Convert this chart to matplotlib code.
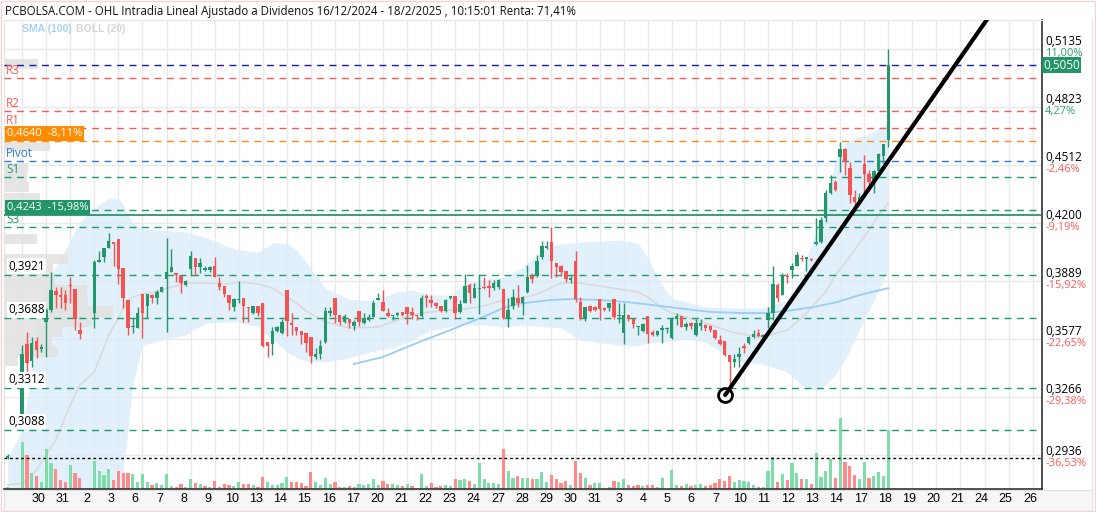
import numpy as np
import matplotlib
matplotlib.use("Agg")
import matplotlib.pyplot as plt
from matplotlib.patches import Rectangle
from matplotlib.transforms import blended_transform_factory
from matplotlib import font_manager

nan = np.nan

# ---------------- data (one entry per intraday slot, 5 slots per trading day) -------------
opens = [0.2938, nan, nan, 0.3164, 0.3551, 0.3459, 0.3567, 0.3524, 0.3669, 0.3733,
         0.3835, 0.3814, 0.3814, 0.3868, 0.3846, 0.3626, nan, nan, 0.3717, 0.3991,
         0.4018, 0.4066, 0.4093, 0.4115, 0.3959, 0.3787, 0.3642, 0.3637, 0.3819, 0.3755,
         0.3814, 0.3798, 0.3830, 0.3900, 0.3937, 0.3932, 0.3916, 0.3868, 0.3953, 0.4013,
         0.3964, 0.3948, 0.3948, 0.3969, 0.3878, 0.3862, 0.3814, 0.3749, 0.3787, 0.3798,
         0.3749, 0.3717, 0.3755, 0.3771, 0.3561, 0.3551, 0.3620, 0.3610, 0.3841, 0.3658,
         0.3642, 0.3620, 0.3610, 0.3588, 0.3481, 0.3497, 0.3561, 0.3717, 0.3798, 0.3706,
         0.3669, 0.3685, 0.3648, 0.3728, 0.3664, 0.3680, 0.3696, 0.3787, 0.3776, 0.3717,
         0.3701, 0.3706, 0.3722, 0.3749, 0.3722, 0.3706, 0.3701, 0.3803, 0.3787, 0.3771,
         0.3755, 0.3728, 0.3798, 0.3809, 0.3722, 0.3771, 0.3867, 0.3798, 0.3846, 0.3857,
         0.3862, 0.3851, 0.3857, 0.3846, 0.3690, 0.3755, 0.3798, 0.3771, 0.3830, 0.3916,
         0.3916, 0.4018, 0.4066, 0.4098, 0.3985, 0.3969, 0.3943, 0.3894, 0.3996, 0.3777,
         0.3685, 0.3755, 0.3749, 0.3792, 0.3744, 0.3744, 0.3792, 0.3701, 0.3610, 0.3707,
         0.3685, 0.3642, 0.3620, 0.3701, 0.3615, 0.3599, 0.3626, 0.3631, 0.3583, 0.3685,
         0.3701, 0.3642, 0.3664, 0.3599, 0.3648, 0.3653, 0.3648, 0.3626, 0.3572, 0.3567,
         0.3492, 0.3454, 0.3481, 0.3540, 0.3556, 0.3588, 0.3610, 0.3588, 0.3680, 0.3717,
         0.3867, 0.3814, 0.3916, 0.3948, 0.3969, 0.4013, 0.4007, 0.4007, 0.4088, 0.4098,
         0.4227, 0.4361, 0.4420, 0.4555, 0.4598, 0.4496, 0.4340, 0.4313, 0.4517, 0.4463,
         0.4431, 0.4479, 0.4560, 0.4646]
highs = [0.2958, nan, nan, 0.3545, 0.3615, 0.3588, 0.3588, 0.3551, 0.3744, 0.3937,
         0.3857, 0.3857, 0.3841, 0.3910, 0.3846, 0.3669, nan, nan, 0.4002, 0.4050,
         0.4066, 0.4147, 0.4093, 0.4115, 0.3959, 0.3787, 0.3690, 0.3749, 0.3819, 0.3819,
         0.3819, 0.3841, 0.3857, 0.4120, 0.4061, 0.3932, 0.3916, 0.3894, 0.4050, 0.4013,
         0.4013, 0.3969, 0.3969, 0.4018, 0.3910, 0.3862, 0.3814, 0.3798, 0.3889, 0.3798,
         0.3749, 0.3755, 0.3755, 0.3771, 0.3561, 0.3642, 0.3648, 0.3685, 0.3841, 0.3717,
         0.3642, 0.3620, 0.3610, 0.3588, 0.3529, 0.3572, 0.3749, 0.3749, 0.3798, 0.3706,
         0.3712, 0.3685, 0.3680, 0.3728, 0.3717, 0.3712, 0.3787, 0.3824, 0.3841, 0.3744,
         0.3706, 0.3722, 0.3722, 0.3749, 0.3749, 0.3706, 0.3814, 0.3819, 0.3814, 0.3776,
         0.3755, 0.3792, 0.3809, 0.3809, 0.3787, 0.3927, 0.3878, 0.3878, 0.3927, 0.3910,
         0.3894, 0.3894, 0.3900, 0.3846, 0.3798, 0.3846, 0.3867, 0.3809, 0.3975, 0.3932,
         0.4029, 0.4104, 0.4104, 0.4179, 0.3985, 0.3975, 0.3943, 0.3916, 0.4050, 0.3803,
         0.3749, 0.3760, 0.3755, 0.3792, 0.3749, 0.3771, 0.3792, 0.3771, 0.3771, 0.3707,
         0.3685, 0.3648, 0.3664, 0.3701, 0.3626, 0.3626, 0.3653, 0.3642, 0.3696, 0.3717,
         0.3701, 0.3669, 0.3669, 0.3685, 0.3685, 0.3658, 0.3653, 0.3626, 0.3599, 0.3567,
         0.3492, 0.3497, 0.3535, 0.3556, 0.3594, 0.3626, 0.3631, 0.3604, 0.3749, 0.3970,
         0.3878, 0.3932, 0.3932, 0.3985, 0.4045, 0.4029, 0.4018, 0.4013, 0.4227, 0.4232,
         0.4377, 0.4458, 0.4431, 0.4635, 0.4603, 0.4528, 0.4377, 0.4361, 0.4565, 0.4485,
         0.4485, 0.4576, 0.4624, 0.5135]
lows = [0.2935, nan, nan, 0.3160, 0.3395, 0.3427, 0.3476, 0.3508, 0.3481, 0.3723,
        0.3744, 0.3744, 0.3733, 0.3771, 0.3626, 0.3578, nan, nan, 0.3637, 0.3991,
        0.3991, 0.4066, 0.3969, 0.3873, 0.3744, 0.3599, 0.3610, 0.3637, 0.3583, 0.3690,
        0.3771, 0.3766, 0.3830, 0.3615, 0.3937, 0.3884, 0.3825, 0.3862, 0.3916, 0.3921,
        0.3932, 0.3943, 0.3940, 0.3910, 0.3841, 0.3803, 0.3733, 0.3728, 0.3771, 0.3669,
        0.3669, 0.3712, 0.3701, 0.3535, 0.3481, 0.3492, 0.3615, 0.3604, 0.3594, 0.3599,
        0.3599, 0.3551, 0.3508, 0.3449, 0.3470, 0.3470, 0.3556, 0.3701, 0.3664, 0.3653,
        0.3664, 0.3637, 0.3626, 0.3648, 0.3658, 0.3675, 0.3696, 0.3787, 0.3728, 0.3696,
        0.3680, 0.3701, 0.3701, 0.3658, 0.3685, 0.3680, 0.3696, 0.3749, 0.3749, 0.3744,
        0.3722, 0.3722, 0.3792, 0.3685, 0.3717, 0.3771, 0.3771, 0.3798, 0.3712, 0.3846,
        0.3803, 0.3841, 0.3846, 0.3685, 0.3642, 0.3739, 0.3749, 0.3707, 0.3825, 0.3878,
        0.3910, 0.4007, 0.4061, 0.3905, 0.3910, 0.3916, 0.3884, 0.3878, 0.3776, 0.3680,
        0.3675, 0.3722, 0.3728, 0.3680, 0.3728, 0.3728, 0.3685, 0.3664, 0.3551, 0.3674,
        0.3637, 0.3599, 0.3615, 0.3556, 0.3594, 0.3594, 0.3556, 0.3610, 0.3578, 0.3653,
        0.3642, 0.3626, 0.3631, 0.3594, 0.3626, 0.3620, 0.3615, 0.3578, 0.3545, 0.3486,
        0.3293, 0.3427, 0.3427, 0.3502, 0.3551, 0.3583, 0.3588, 0.3583, 0.3637, 0.3680,
        0.3776, 0.3814, 0.3878, 0.3905, 0.3969, 0.3996, 0.3943, 0.3996, 0.4082, 0.4093,
        0.4206, 0.4356, 0.4372, 0.4474, 0.4458, 0.4308, 0.4286, 0.4302, 0.4361, 0.4399,
        0.4361, 0.4474, 0.4523, 0.4609]
closes = [0.2950, nan, nan, 0.3497, 0.3449, 0.3556, 0.3519, 0.3535, 0.3733, 0.3841,
          0.3814, 0.3803, 0.3771, 0.3862, 0.3685, 0.3604, nan, nan, 0.3991, 0.4002,
          0.4066, 0.4104, 0.4088, 0.3953, 0.3798, 0.3637, 0.3648, 0.3717, 0.3717, 0.3819,
          0.3798, 0.3830, 0.3857, 0.3937, 0.3964, 0.3921, 0.3878, 0.3889, 0.4023, 0.3964,
          0.3985, 0.3959, 0.3964, 0.3910, 0.3857, 0.3819, 0.3771, 0.3792, 0.3792, 0.3755,
          0.3744, 0.3755, 0.3717, 0.3540, 0.3540, 0.3620, 0.3642, 0.3669, 0.3674, 0.3653,
          0.3620, 0.3599, 0.3556, 0.3486, 0.3497, 0.3540, 0.3728, 0.3728, 0.3706, 0.3669,
          0.3701, 0.3664, 0.3669, 0.3669, 0.3690, 0.3696, 0.3771, 0.3798, 0.3728, 0.3701,
          0.3706, 0.3717, 0.3706, 0.3712, 0.3706, 0.3701, 0.3798, 0.3798, 0.3771, 0.3755,
          0.3728, 0.3787, 0.3803, 0.3717, 0.3766, 0.3862, 0.3825, 0.3851, 0.3851, 0.3851,
          0.3851, 0.3878, 0.3894, 0.3690, 0.3733, 0.3803, 0.3771, 0.3803, 0.3910, 0.3900,
          0.3996, 0.4077, 0.4077, 0.3996, 0.3964, 0.3937, 0.3900, 0.3905, 0.3792, 0.3689,
          0.3749, 0.3728, 0.3733, 0.3739, 0.3733, 0.3771, 0.3696, 0.3706, 0.3707, 0.3685,
          0.3658, 0.3648, 0.3658, 0.3604, 0.3599, 0.3620, 0.3637, 0.3637, 0.3690, 0.3701,
          0.3642, 0.3658, 0.3648, 0.3664, 0.3664, 0.3637, 0.3626, 0.3583, 0.3551, 0.3492,
          0.3454, 0.3470, 0.3497, 0.3529, 0.3588, 0.3604, 0.3594, 0.3599, 0.3717, 0.3873,
          0.3798, 0.3921, 0.3910, 0.3969, 0.4029, 0.4007, 0.4018, 0.4002, 0.4093, 0.4216,
          0.4361, 0.4415, 0.4377, 0.4598, 0.4528, 0.4351, 0.4313, 0.4340, 0.4463, 0.4420,
          0.4479, 0.4571, 0.4624, 0.5050]
volumes = [2.3, 0, 0, 47.3, 34, 15.7, 13.3, 6.7, 39.7, 25.7,
           19.7, 8.7, 7, 23.7, 16, 10.7, 0, 0, 28.3, 17.7,
           13.7, 19.7, 8.7, 17.7, 16, 16, 15, 7, 15, 7,
           4, 6, 3.7, 14.7, 2.7, 2, 4.7, 2.3, 9.7, 6,
           4.7, 2.7, 2, 7.7, 2, 4.7, 3.7, 2.7, 7, 5,
           5, 3.7, 2, 11.7, 7.3, 3.7, 3.7, 5.7, 11.7, 6.7,
           7, 6.3, 3, 16.7, 6.7, 3.7, 10.7, 5, 7, 2,
           2, 3, 2, 4.7, 4, 4.7, 9.7, 4, 7.7, 4.7,
           4.7, 3.7, 2.7, 4.7, 2.7, 0, 14.7, 3.3, 5.7, 2,
           2.7, 3.7, 3, 9.7, 8.7, 9.7, 8, 4.7, 25.7, 9.7,
           5.7, 5.7, 4.7, 39.7, 17.7, 10.7, 12.7, 10.7, 11.3, 9.7,
           9.7, 16.7, 6.7, 13.7, 9.7, 5.7, 7.7, 3.7, 28, 16,
           10.7, 3.7, 5.7, 5.7, 0, 1.7, 7.7, 6.7, 9.7, 3.7,
           2.7, 3.7, 2.7, 3.7, 3.7, 1.7, 10.7, 0, 18.7, 3.7,
           2.7, 4.7, 2.7, 3.7, 4.7, 2.7, 3.7, 5.7, 9.7, 7.7,
           12.7, 6.7, 8.7, 7.7, 6.7, 3.7, 1.7, 1.7, 17.7, 31.7,
           6.7, 14.7, 8.7, 25.7, 15.7, 9.7, 9.7, 4.7, 35.7, 11.7,
           17.7, 29.7, 10.7, 70.7, 26.7, 22.7, 13.7, 9.7, 26.7, 10.7,
           12.7, 16.7, 12.7, 59]

# Bollinger (20) and SMA (100)
bb_slot = [0, 3, 5, 6, 8, 10, 13, 15, 18, 21, 23, 24, 25, 26, 28, 32, 37, 41, 46, 48,
           52, 55, 58, 60, 62, 66, 71, 77, 80, 84, 88, 92, 95, 99, 103, 107, 110, 112, 115, 119,
           127, 131, 133, 136, 138, 141, 145, 151, 157, 162, 165, 166, 168, 170, 172, 174, 176, 179, 181, 183]
bb_upper = [0.2944, 0.3089, 0.3411, 0.3680, 0.3894, 0.3959, 0.4109, 0.4206, 0.4281, 0.4335,
            0.4329, 0.4302, 0.4243, 0.4201, 0.4174, 0.4163, 0.4152, 0.4125, 0.4072, 0.4056,
            0.4045, 0.4093, 0.4093, 0.4056, 0.3991, 0.3851, 0.3792, 0.3782, 0.3825, 0.3841,
            0.3814, 0.3814, 0.3873, 0.3900, 0.3910, 0.3959, 0.4029, 0.4072, 0.4088, 0.4098,
            0.4109, 0.4093, 0.4013, 0.3868, 0.3798, 0.3776, 0.3749, 0.3744, 0.3744, 0.3787,
            0.3921, 0.4013, 0.4163, 0.4324, 0.4528, 0.4630, 0.4657, 0.4678, 0.4711, 0.4737]
bb_mid = [0.2794, 0.2804, 0.2847, 0.2874, 0.2955, 0.3035, 0.3223, 0.3331, 0.3400, 0.3599,
          0.3690, 0.3744, 0.3787, 0.3803, 0.3819, 0.3841, 0.3878, 0.3878, 0.3873, 0.3884,
          0.3873, 0.3851, 0.3803, 0.3771, 0.3728, 0.3669, 0.3637, 0.3642, 0.3669, 0.3707,
          0.3723, 0.3733, 0.3739, 0.3755, 0.3787, 0.3798, 0.3819, 0.3841, 0.3878, 0.3878,
          0.3846, 0.3830, 0.3803, 0.3744, 0.3717, 0.3696, 0.3663, 0.3610, 0.3588, 0.3626,
          0.3690, 0.3717, 0.3776, 0.3830, 0.3921, 0.3986, 0.4056, 0.4163, 0.4243, 0.4308]
bb_lower = [0.2391, 0.2391, 0.2391, 0.2391, 0.2391, 0.2391, 0.2418, 0.2444, 0.2498, 0.2606,
            0.2729, 0.2874, 0.3089, 0.3331, 0.3545, 0.3572, 0.3599, 0.3663, 0.3669, 0.3669,
            0.3642, 0.3572, 0.3508, 0.3476, 0.3459, 0.3454, 0.3476, 0.3519, 0.3529, 0.3572,
            0.3626, 0.3642, 0.3653, 0.3653, 0.3642, 0.3653, 0.3647, 0.3642, 0.3637, 0.3572,
            0.3545, 0.3540, 0.3556, 0.3562, 0.3567, 0.3578, 0.3562, 0.3459, 0.3443, 0.3400,
            0.3331, 0.3314, 0.3304, 0.3331, 0.3384, 0.3465, 0.3572, 0.3733, 0.3841, 0.3948]
sma_slot = [71.9, 78, 85, 92, 98.8, 103, 105.8, 112.7, 116.9, 123, 128.7, 134.1, 139, 146,
            152.8, 157.8, 163.2, 167.4, 172.3, 177.1, 183]
sma_vals = [0.3443, 0.3481, 0.3556, 0.3626, 0.3696, 0.3744, 0.3766, 0.3787, 0.3792, 0.3787,
            0.3776, 0.3760, 0.3744, 0.3723, 0.3717, 0.3717, 0.3733, 0.3749, 0.3776, 0.3814, 0.3851]

# volume-by-price profile (left side)
vp_top = [0.5081, 0.4635, 0.4523, 0.4469, 0.4421, 0.4362, 0.4141, 0.4034, 0.3980, 0.3927,
          0.3868, 0.3808, 0.3755, 0.3696, 0.3642, 0.3588, 0.3535, 0.3481]
vp_bottom = [0.5027, 0.4587, 0.4469, 0.4421, 0.4367, 0.4319, 0.4088, 0.3980, 0.3927, 0.3868,
             0.3808, 0.3755, 0.3696, 0.3642, 0.3588, 0.3535, 0.3481, 0.3433]
vp_volume = [33, 45, 23, 22, 24, 35, 32, 63, 48, 50, 82, 83, 108, 87, 57, 47, 53, 13]

# pivot / support / resistance levels
levels = {
    "last": 0.5050, "R3": 0.4978, "R2": 0.4802, "R1": 0.4709, "prev": 0.4640,
    "Pivot": 0.4532, "S1": 0.4447, "S2": 0.4269, "ref": 0.4243, "S3": 0.4177,
}
support_levels = [0.3921, 0.3688, 0.3312, 0.3088]
support_labels = ["0,3921", "0,3688", "0,3312", "0,3088"]
low_level = 0.2936

trend_pts_x = [149.1, 197.2]
trend_pts_y = [0.3277, 0.5060]

y_ticks = [0.5135, 0.4823, 0.4512, 0.4200, 0.3889, 0.3577, 0.3266, 0.2936]
y_tick_labels = ["0,5135", "0,4823", "0,4512", "0,4200", "0,3889", "0,3577", "0,3266", "0,2936"]
y_pct_labels = ["11,00%", "4,27%", "-2,46%", "-9,19%", "-15,92%", "-22,65%", "-29,38%", "-36,53%"]
grid_prices = [0.5135, 0.4823, 0.4512, 0.4200, 0.3889, 0.3577, 0.3266, 0.2955]

day_labels = ["30", "31", "2", "3", "6", "7", "8", "9", "10", "13", "14", "15", "16", "17",
              "20", "21", "22", "23", "24", "27", "28", "29", "30", "31", "3", "4", "5", "6",
              "7", "10", "11", "12", "13", "14", "17", "18", "19", "20", "21", "24", "25", "26"]

title = "PCBOLSA.COM - OHL Intradia Lineal Ajustado a Dividenos 16/12/2024 - 18/2/2025 , 10:15:01 Renta: 71,41%"

# ---------------- style ----------------
GREEN = "#22976b"
RED = "#f75252"
VGREEN = "#7fdcab"
VRED = "#ff8a8a"
plt.rcParams["font.family"] = ["Open Sans", "DejaVu Sans"]
_names = {f.name for f in font_manager.fontManager.ttflist}
NARROW = "Liberation Sans Narrow" if "Liberation Sans Narrow" in _names else "Liberation Sans"

W, H = 1096, 512
fig = plt.figure(figsize=(W / 100, H / 100), dpi=100)
fig.patch.set_facecolor("white")

L, R, T, B = 4, 1042, 20, 489
ax = fig.add_axes([L / W, 1 - B / H, (R - L) / W, (B - T) / H])
ax.set_xlim(-0.77, 214.94)
ax.set_ylim(0.2772, 0.5291)
ax.set_facecolor("white")

n = len(closes)
o = np.array(opens); h = np.array(highs); l = np.array(lows); c = np.array(closes)
v = np.array(volumes, dtype=float)

# grid
for k in range(-1, 42):
    ax.axvline(8 + 5 * k, color="#e9e9e9", lw=1, zorder=0)
for gp in grid_prices:
    ax.axhline(gp, color="#e9e9e9", lw=1, zorder=0)

# Bollinger band + SMA
ax.fill_between(bb_slot, bb_lower, bb_upper, color="#d9ecfa", alpha=0.75, lw=0, zorder=1)
ax.plot(bb_slot, bb_mid, color="#dadada", lw=1.2, zorder=1.2)
ax.plot(sma_slot, sma_vals, color="#98cdf5", lw=1.3, zorder=1.3)

# volume profile
trans_ax_x = blended_transform_factory(ax.transAxes, ax.transData)
for top, bot, vol in zip(vp_top, vp_bottom, vp_volume):
    ax.add_patch(Rectangle((0.001, bot), vol / (R - L), top - bot, transform=trans_ax_x,
                           facecolor="#e1e1e1", alpha=0.85, lw=0, zorder=1.5))

# volume bars (colour by close vs previous close)
trans_vol = ax.get_xaxis_transform()
prev = np.nan
for i in range(n):
    if np.isnan(c[i]):
        continue
    up = True if np.isnan(prev) else c[i] >= prev
    prev = c[i]
    if v[i] > 0:
        ax.add_patch(Rectangle((i - 0.33, 0), 0.66, v[i] / (B - T), transform=trans_vol,
                               facecolor=VGREEN if up else VRED, lw=0, zorder=2))

# horizontal levels
dash = (0, (5, 4))
ax.axhline(levels["last"], color="#1a1aa6", lw=1, ls=dash, zorder=2.6)
for key in ["R3", "R2", "R1"]:
    ax.axhline(levels[key], color="#ff5a5a", lw=1, ls=dash, zorder=2.6)
ax.axhline(levels["prev"], color="#ff8c1a", lw=1, ls=dash, zorder=2.6)
ax.axhline(levels["Pivot"], color="#2e7bd0", lw=1, ls=dash, zorder=2.6)
for key in ["S1", "S2", "S3"]:
    ax.axhline(levels[key], color="#1f9a6a", lw=1, ls=dash, zorder=2.6)
ax.axhline(levels["ref"], color="#1f8a60", lw=1.2, zorder=2.6)
for sl in support_levels:
    ax.axhline(sl, color="#1f9a6a", lw=1, ls=dash, zorder=2.6)
ax.axhline(low_level, color="black", lw=1, ls=(0, (2, 2)), zorder=2.6)

# candles
for i in range(n):
    if np.isnan(c[i]):
        continue
    col = GREEN if c[i] >= o[i] else RED
    ax.plot([i, i], [l[i], h[i]], color=col, lw=1, zorder=3, solid_capstyle="butt")
    lo_b, hi_b = min(o[i], c[i]), max(o[i], c[i])
    hgt = max(hi_b - lo_b, 0.0008)
    ax.add_patch(Rectangle((i - 0.36, lo_b), 0.72, hgt, facecolor=col, edgecolor="none", zorder=3.1))

# trend line
tx = np.array(trend_pts_x); ty = np.array(trend_pts_y)
slope = (ty[1] - ty[0]) / (tx[1] - tx[0])
x_end = 216
ax.plot([tx[0], x_end], [ty[0], ty[0] + slope * (x_end - tx[0])], color="black", lw=3,
        zorder=4, solid_capstyle="round")
ax.plot([tx[0]], [ty[0]], marker="o", ms=10, mfc="none", mec="black", mew=2, zorder=4.2)

# left labels
lbl_fs = 8.5
for key, colr in [("R3", "#ff5a5a"), ("R2", "#ff5a5a"), ("R1", "#ff5a5a"),
                  ("Pivot", "#2e7bd0"), ("S1", "#1f9a6a"), ("S3", "#1f9a6a")]:
    ax.text(0.002, levels[key] + 0.0006, key, transform=trans_ax_x, color=colr,
            fontsize=lbl_fs, va="bottom", zorder=5)

ax.text(0.003, levels["prev"] + 0.0012, "0,4640  -8,11%", transform=trans_ax_x, color="white",
        fontsize=8, va="bottom", zorder=6,
        bbox=dict(boxstyle="square,pad=0.15", fc="#ff8c00", ec="none"))
ax.text(0.003, levels["ref"] + 0.0012, "0,4243  -15,98%", transform=trans_ax_x, color="white",
        fontsize=8, va="bottom", zorder=6,
        bbox=dict(boxstyle="square,pad=0.15", fc="#239669", ec="none"))
for sl, st in zip(support_levels, support_labels):
    ax.text(0.004, sl + 0.0012, st, transform=trans_ax_x, color="black", fontsize=lbl_fs,
            va="bottom", zorder=6, bbox=dict(boxstyle="square,pad=0.12", fc="white", ec="none"))

# right axis labels
for yt, ylab, pl in zip(y_ticks, y_tick_labels, y_pct_labels):
    ax.text(1.003, yt + 0.0004, ylab, transform=trans_ax_x, fontsize=8.5, va="bottom",
            ha="left", clip_on=False)
    pc = "#2e9e6e" if not pl.startswith("-") else "#ff5a5a"
    ax.text(1.003, yt + 0.0004, pl, transform=trans_ax_x, fontsize=8, va="top", ha="left",
            color=pc, clip_on=False)
ax.text(1.001, levels["last"] - 0.0002, "0,5050", transform=trans_ax_x, fontsize=8.5,
        va="center", ha="left", color="white", clip_on=False, zorder=7,
        bbox=dict(boxstyle="square,pad=0.12", fc="#239669", ec="none"))

# axes frame
for s in ["top", "left"]:
    ax.spines[s].set_color("#e4e4e4")
ax.spines["right"].set_color("#333333")
ax.spines["bottom"].set_color("#333333")
ax.spines["right"].set_linewidth(1.2)
ax.spines["bottom"].set_linewidth(1.2)
ax.set_yticks([])
day_pos = 6.4 + 5.025 * np.arange(len(day_labels))
ax.set_xticks(day_pos)
ax.set_xticklabels(day_labels, fontsize=9, family=NARROW)
ax.tick_params(axis="x", length=0, pad=3)

# x-axis band and outer frame
fig.patches.append(Rectangle((L / W, 0.002), (1092 - L) / W, (H - B - 2) / H, transform=fig.transFigure,
                             facecolor="#f6f6f6", edgecolor="#e2e2e2", lw=0.8, zorder=-1))
fig.lines.append(plt.Line2D([1092 / W, 1092 / W], [1 - B / H, 1 - T / H], transform=fig.transFigure,
                            color="#e6e6e6", lw=1))
fig.patches.append(Rectangle((0.0005, 0.001), 0.999, 0.998, transform=fig.transFigure,
                             facecolor="none", edgecolor="#ecd6d6", lw=1))

fig.text(5 / W, 1 - 11 / H, title, fontsize=8.3, va="center", ha="left", color="#111111")
sma_txt = fig.text(22 / W, 1 - 29 / H, "SMA (100)", fontsize=7.5, va="center", ha="left",
                   color="#a6d3f5", weight="bold", family="Liberation Sans")
fig.canvas.draw()
bb_ext = sma_txt.get_window_extent(renderer=fig.canvas.get_renderer())
fig.text((bb_ext.x1 + 4) / W, 1 - 29 / H, "BOLL (20)", fontsize=7.5, va="center", ha="left",
         color="#d6d6d6", weight="bold", family="Liberation Sans")

fig.savefig("out.png", dpi=100)
